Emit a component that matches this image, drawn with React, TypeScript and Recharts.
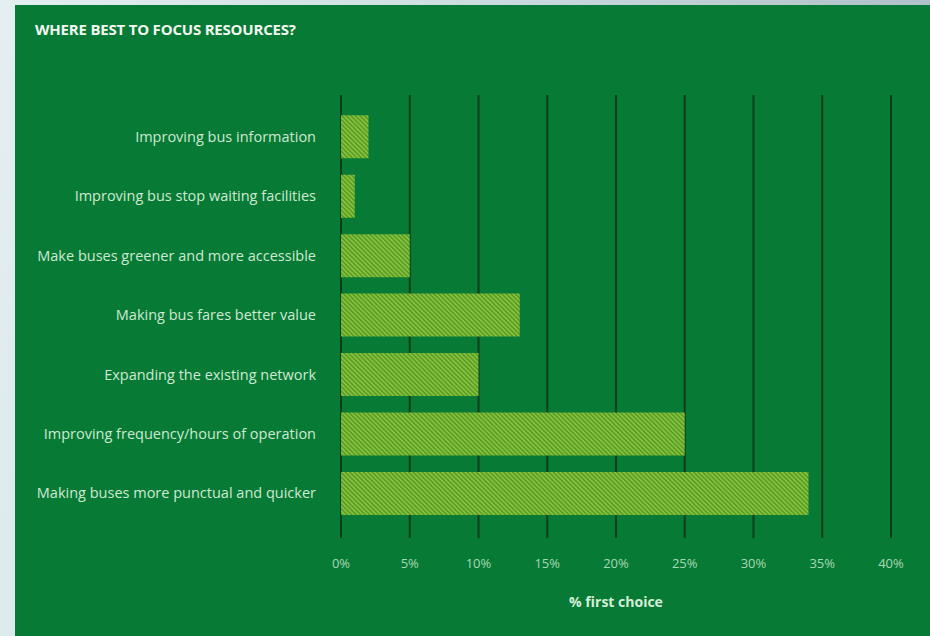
import React from 'react';
import { BarChart, Bar, XAxis, YAxis, CartesianGrid } from 'recharts';

const categories = [
  'Improving bus information',
  'Improving bus stop waiting facilities',
  'Make buses greener and more accessible',
  'Making bus fares better value',
  'Expanding the existing network',
  'Improving frequency/hours of operation',
  'Making buses more punctual and quicker',
];
const firstChoice = [2, 1, 5, 13, 10, 25, 34];
const xTicks = [0, 5, 10, 15, 20, 25, 30, 35, 40];

const data = categories.map((name, i) => ({ name, value: firstChoice[i] }));

const FONT = '"Open Sans", "Noto Sans", sans-serif';

export default function App() {
  return (
    <div
      style={{
        position: 'absolute',
        left: 0,
        top: 0,
        width: 930,
        height: 636,
        overflow: 'hidden',
        background: 'linear-gradient(100deg, #e3eff0 0%, #cfdfe2 40%, #a9bcc4 100%)',
        fontFamily: FONT,
      }}
    >
      <div
        style={{
          position: 'absolute',
          left: 15,
          top: 5,
          width: 915,
          height: 631,
          background: '#077a35',
        }}
      >
        <div
          style={{
            position: 'absolute',
            left: 20,
            top: 14,
            color: '#f2f7f0',
            fontWeight: 700,
            fontSize: 15,
            letterSpacing: -0.2,
          }}
        >
          WHERE BEST TO FOCUS RESOURCES?
        </div>
        <BarChart
          width={915}
          height={631}
          data={data}
          layout="vertical"
          margin={{ top: 90, right: 39, left: 0, bottom: 28 }}
          barCategoryGap="14%"
        >
          <defs>
            <pattern
              id="stripes"
              width="3.2"
              height="3.2"
              patternUnits="userSpaceOnUse"
              patternTransform="rotate(-45)"
            >
              <rect width="3.2" height="3.2" fill="#5a9c2a" />
              <rect width="1.6" height="3.2" fill="#86c23a" />
            </pattern>
          </defs>
          <CartesianGrid
            horizontal={false}
            vertical={true}
            stroke="#0b3f1b"
            strokeWidth={2}
          />
          <XAxis
            type="number"
            domain={[0, 40]}
            ticks={xTicks}
            tickFormatter={(v) => `${v}%`}
            axisLine={false}
            tickLine={false}
            tickMargin={15}
            height={70}
            tick={{ fill: '#a9d8b4', fontSize: 13, fontFamily: FONT }}
            label={{
              value: '% first choice',
              position: 'insideBottom',
              offset: 1,
              fill: '#d6eed9',
              fontSize: 14,
              fontWeight: 700,
              fontFamily: FONT,
            }}
          />
          <YAxis
            type="category"
            dataKey="name"
            width={326}
            axisLine={false}
            tickLine={false}
            tickMargin={19}
            padding={{ top: 12, bottom: 15 }}
            interval={0}
            tick={{ fill: '#cfe9d2', fontSize: 14.5, fontFamily: FONT }}
          />
          <Bar dataKey="value" fill="url(#stripes)" isAnimationActive={false} />
        </BarChart>
      </div>
    </div>
  );
}
